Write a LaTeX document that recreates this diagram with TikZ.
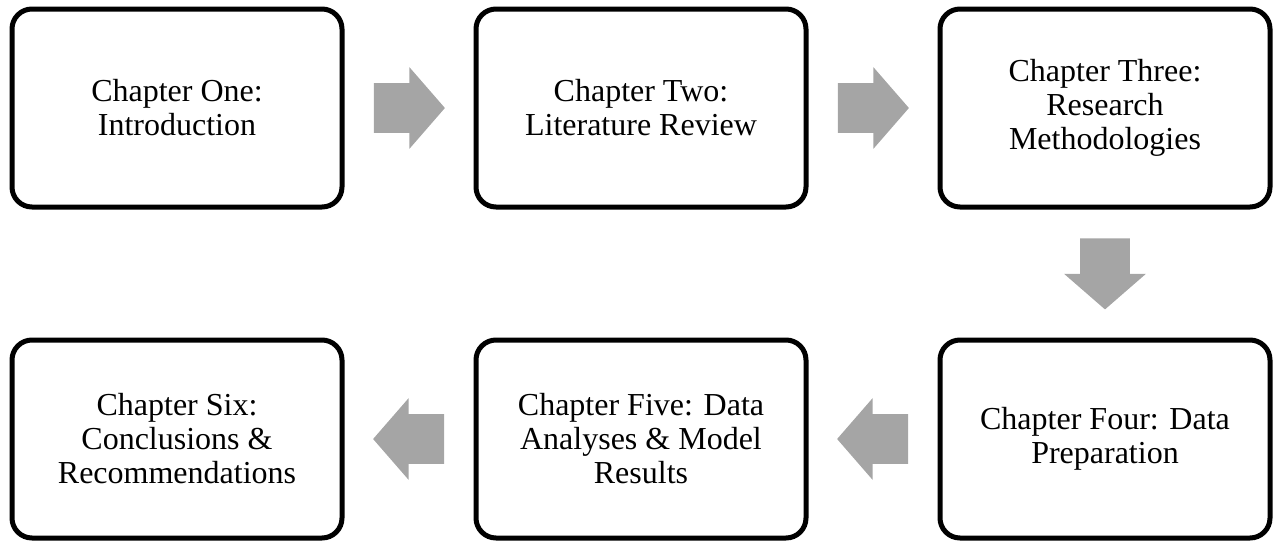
\documentclass[tikz,border=0pt]{standalone}
\usepackage{fontspec}
\setmainfont{Liberation Serif}
\usetikzlibrary{shapes.arrows,calc}
\definecolor{arrowgray}{HTML}{A5A5A5}

\begin{document}
\begin{tikzpicture}[x=0.5pt, y=0.5pt,
		chapter/.style={draw, line width=2.5pt, rounded corners=10pt,
		minimum width=165pt, minimum height=99pt, inner sep=0pt,
		align=center, font=\fontsize{16}{17}\selectfont},
		flow/.style={single arrow, fill=arrowgray, draw=none, inner sep=0pt,
		inner ysep=12.25pt, minimum height=35.5pt, anchor=tail,
		single arrow head extend=8pt, single arrow tip angle=98}]
		\useasboundingbox (0,0) rectangle (1275,-542);

		\node [chapter] (one) at (177,-108) {Chapter One:\\Introduction};
		\node [chapter] (two) at (641,-108) {Chapter Two:\\Literature Review};
		\node [chapter] (three) at (1105,-108) {Chapter Three:\\Research\\Methodologies};
		\node [chapter] (four) at (1105,-439) {Chapter Four: Data\\Preparation};
		\node [chapter] (five) at (641,-439) {Chapter Five: Data\\Analyses \& Model\\Results};
		\node [chapter] (six) at (177,-439) {Chapter Six:\\Conclusions \&\\Recommendations};

		% block arrows, tail placed half a length before the midpoint
		\node [flow] (a12) at ($(one)!0.5!(two)+(-35.5,0)$) {};
		\node [flow] (a23) at ($(two)!0.5!(three)+(-35.5,0)$) {};
		\node [flow, rotate=-90] (a34) at ($(three)!0.5!(four)+(0,35.5)$) {};
		\node [flow, rotate=180] (a45) at ($(four)!0.5!(five)+(35.5,0)$) {};
		\node [flow, rotate=180] (a56) at ($(five)!0.5!(six)+(35.5,0)$) {};
	\end{tikzpicture}
\end{document}
